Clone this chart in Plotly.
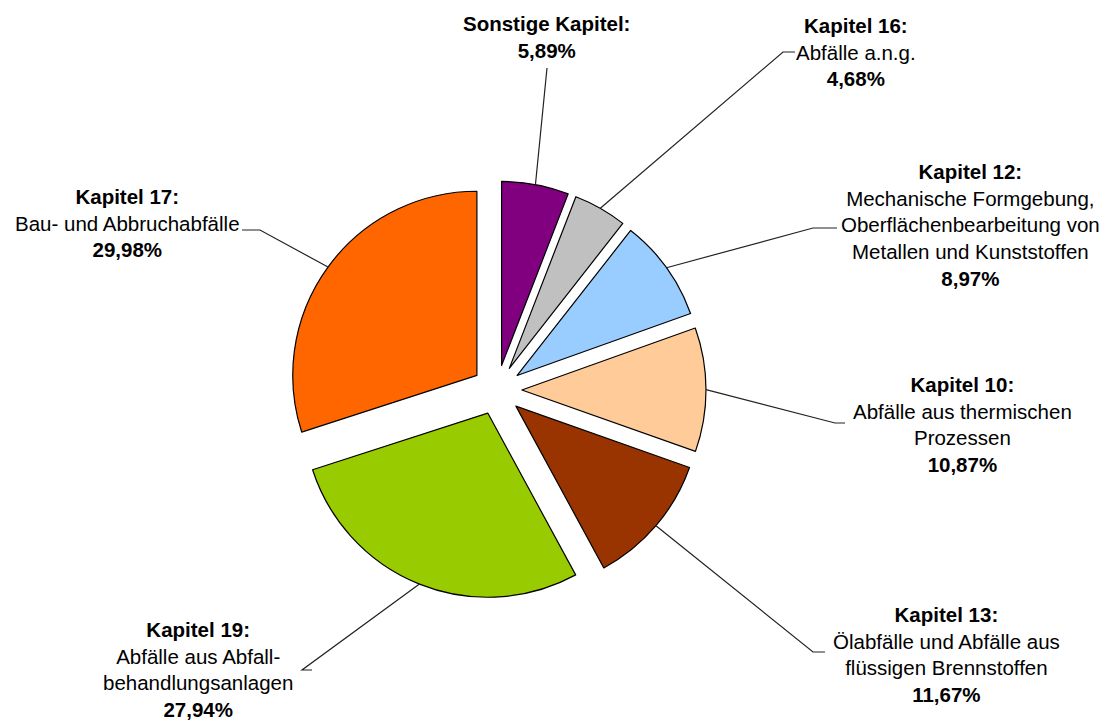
import numpy as np
import plotly.graph_objects as go

# ---- data ----
chapters = ["Sonstige Kapitel", "Kapitel 16", "Kapitel 12", "Kapitel 10",
            "Kapitel 13", "Kapitel 19", "Kapitel 17"]
descriptions = [
    "",
    "Abfälle a.n.g.",
    "Mechanische Formgebung,<br>Oberflächenbearbeitung von<br>Metallen und Kunststoffen",
    "Abfälle aus thermischen<br>Prozessen",
    "Ölabfälle und Abfälle aus<br>flüssigen Brennstoffen",
    "Abfälle aus Abfall-<br>behandlungsanlagen",
    "Bau- und Abbruchabfälle",
]
shares = [5.89, 4.68, 8.97, 10.87, 11.67, 27.94, 29.98]
colors = ["#800080", "#C0C0C0", "#99CCFF", "#FFCC99", "#993300", "#99CC00", "#FF6600"]

# ---- layout constants (pixels) ----
W, H = 1110, 720
CX, CY = 497, 390          # pie box centre
HALF = 209                 # half size of pie box (radius incl. pull)
PULL = 0.135
FONT = dict(family="Arial, Liberation Sans, sans-serif", size=20.5, color="#000000")

label_pos = [(546, 37), (856, 52), (971, 225), (962, 424), (946, 654), (198, 669), (127, 223)]
elbows = [
    [(547, 68)],
    [(795, 52), (783, 52)],
    [(837, 228), (813, 228)],
    [(845, 423), (835, 423)],
    [(825, 652), (813, 652)],
    [(312, 670), (302, 670)],
    [(242, 230), (260, 230)],
]


def px(x):
    return x / W


def py(y):
    return 1 - y / H


fig = go.Figure()
fig.add_trace(go.Pie(
    labels=chapters,
    values=shares,
    sort=False,
    direction="clockwise",
    rotation=0,
    pull=[PULL] * len(shares),
    marker=dict(colors=colors, line=dict(color="#000000", width=1.2)),
    textinfo="none",
    hoverinfo="label+percent",
    showlegend=False,
    domain=dict(x=[px(CX - HALF), px(CX + HALF)], y=[py(CY + HALF), py(CY - HALF)]),
))

# mid angles of slices (clockwise from 12 o'clock)
vals = np.array(shares, dtype=float)
cum = np.cumsum(vals)
mid = np.radians((cum - vals / 2) / vals.sum() * 360)

shapes = []
annotations = []
for i, name in enumerate(chapters):
    ax = CX + HALF * np.sin(mid[i])
    ay = CY - HALF * np.cos(mid[i])
    pts = elbows[i] + [(ax, ay)]
    path = "M " + " L ".join(f"{px(x):.5f},{py(y):.5f}" for x, y in pts)
    shapes.append(dict(type="path", path=path, xref="paper", yref="paper",
                       line=dict(color="#222222", width=1.2)))
    pct = f"{shares[i]:.2f}".replace(".", ",") + "%"
    txt = f"<b>{name}:</b><br>"
    if descriptions[i]:
        txt += descriptions[i] + "<br>"
    txt += f"<b>{pct}</b>"
    lx, ly = label_pos[i]
    annotations.append(dict(text=txt, x=px(lx), y=py(ly), xref="paper", yref="paper",
                            xanchor="center", yanchor="middle", showarrow=False,
                            align="center", font=FONT))

fig.update_layout(
    width=W, height=H,
    margin=dict(l=0, r=0, t=0, b=0),
    paper_bgcolor="white", plot_bgcolor="white",
    shapes=shapes, annotations=annotations,
)

fig.write_html("out.html", config={"displayModeBar": False},
               post_script="document.body.style.margin='0px';")
